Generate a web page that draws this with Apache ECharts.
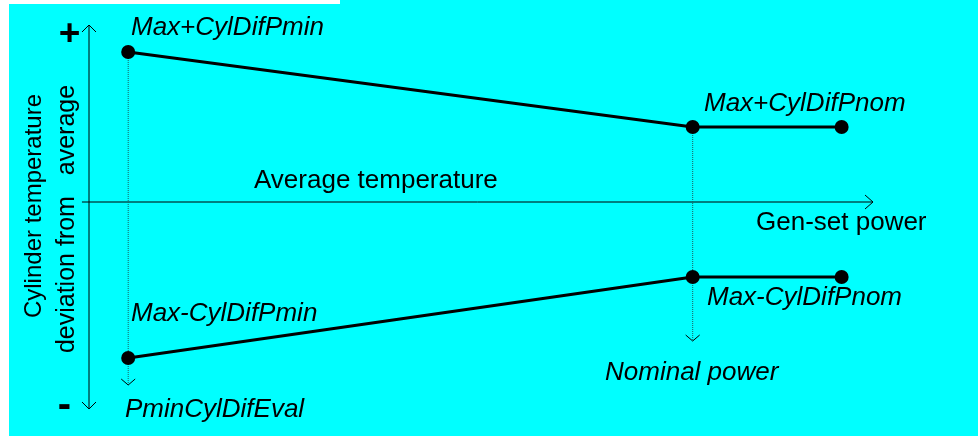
<!DOCTYPE html>
<html><head><meta charset="utf-8">
<script src="https://cdn.jsdelivr.net/npm/echarts@6/dist/echarts.min.js"></script>
<style>html,body{margin:0;padding:0;background:#fff}#c{width:978px;height:436px}</style>
</head><body><div id="c"></div>
<script>
// ---- data ----
const powerPoints = [0.5, 7.7, 9.6];          // Pmin, Pnom, end of curve (gen-set power)
const upperValues = [1.5, 0.75, 0.75];        // Max+CylDif
const lowerValues = [-1.56, -0.75, -0.75];    // Max-CylDif
const dropFrom = [1.5, 0.75];                 // dotted guide start (y) at Pmin, Pnom
const dropTo = [-1.83, -1.39];                // dotted guide end (y)
const xAxisExtent = [-0.09, 10];
const yAxisExtent = [-2.07, 1.77];
const labelTexts = ['Max+CylDifPmin','Max+CylDifPnom','Average temperature','Gen-set power',
  'Max-CylDifPnom','Max-CylDifPmin','Nominal power','PminCylDifEval'];
const yTitleLines = ['Cylinder temperature','deviation from   average'];
const signTexts = ['+','-'];

const FONT = '"Liberation Sans", Arial, sans-serif';
function chevron(tip, from, L, W){
  const dx=tip[0]-from[0], dy=tip[1]-from[1], len=Math.hypot(dx,dy)||1;
  const ux=dx/len, uy=dy/len, nx=-uy, ny=ux;
  return [[tip[0]-ux*L+nx*W, tip[1]-uy*L+ny*W], tip, [tip[0]-ux*L-nx*W, tip[1]-uy*L-ny*W]];
}
function arrowItem(dashed, L, W, both){
  return function(params, api){
    const p1 = api.coord([api.value(0), api.value(1)]);
    const p2 = api.coord([api.value(2), api.value(3)]);
    const children = [{type:'line', shape:{x1:p1[0],y1:p1[1],x2:p2[0],y2:p2[1]},
      style:{stroke: dashed ? '#1f5f5f' : '#000', lineWidth:1, lineDash: dashed ? [1,1] : null}}];
    children.push({type:'polyline', shape:{points:chevron(p2,p1,L,W)}, style:{stroke:'#000', lineWidth:1, fill:null}});
    if (both) children.push({type:'polyline', shape:{points:chevron(p1,p2,L,W)}, style:{stroke:'#000', lineWidth:1, fill:null}});
    return {type:'group', children};
  };
}
const pair = (xs, ys) => xs.map((x,i)=>[x, ys[i]]);

const chart = echarts.init(document.getElementById('c'));
const italic = (text, x, y) => ({type:'text', x, y, style:{text, font:'italic 26px '+FONT, fill:'#000', verticalAlign:'middle'}});
chart.setOption({
  backgroundColor:'#00ffff',
  animation:false,
  grid:{left:89, right:105, top:25, bottom:27},
  xAxis:{type:'value', min:0, max:10, show:false},
  yAxis:{type:'value', min:yAxisExtent[0], max:yAxisExtent[1], show:false},
  graphic:[
    {type:'rect', shape:{x:0,y:0,width:9,height:436}, style:{fill:'#fff'}, silent:true},
    {type:'rect', shape:{x:0,y:0,width:340,height:4}, style:{fill:'#fff'}, silent:true},
    italic(labelTexts[0], 131, 28),
    italic(labelTexts[1], 704, 104),
    {type:'text', x:254, y:181, style:{text:labelTexts[2], font:'26px '+FONT, fill:'#000', verticalAlign:'middle'}},
    {type:'text', x:756, y:223, style:{text:labelTexts[3], font:'26px '+FONT, fill:'#000', verticalAlign:'middle'}},
    italic(labelTexts[4], 707, 298),
    italic(labelTexts[5], 131, 314),
    italic(labelTexts[6], 605, 373),
    italic(labelTexts[7], 125, 410),
    {type:'text', x:34, y:206, rotation:Math.PI/2, style:{text:yTitleLines[0], font:'24px '+FONT, fill:'#000', align:'center', verticalAlign:'middle'}},
    {type:'text', x:67, y:219, rotation:Math.PI/2, style:{text:yTitleLines[1], font:'25px '+FONT, fill:'#000', align:'center', verticalAlign:'middle'}},
    {type:'text', x:69.5, y:35, style:{text:signTexts[0], font:'bold 37px '+FONT, fill:'#000', align:'center', verticalAlign:'middle'}},
    {type:'text', x:64.5, y:406, style:{text:signTexts[1], font:'bold 40px '+FONT, fill:'#000', align:'center', verticalAlign:'middle'}}
  ],
  series:[
    {type:'custom', name:'axes', clip:false, silent:true, encode:{x:[0,2], y:[1,3]},
      renderItem: arrowItem(false, 8, 7, false), data:[[xAxisExtent[0],0,xAxisExtent[1],0]], z:1},
    {type:'custom', name:'yaxis', clip:false, silent:true, encode:{x:[0,2], y:[1,3]},
      renderItem: arrowItem(false, 7, 7, true), data:[[0,yAxisExtent[0],0,yAxisExtent[1]]], z:1},
    {type:'custom', name:'drops', clip:false, silent:true, encode:{x:[0,2], y:[1,3]},
      renderItem: arrowItem(true, 6, 7, false),
      data: dropFrom.map((y,i)=>[powerPoints[i], y, powerPoints[i], dropTo[i]]), z:2},
    {type:'line', name:'upper', data:pair(powerPoints, upperValues), symbol:'circle', symbolSize:14,
      lineStyle:{color:'#000', width:3}, itemStyle:{color:'#000'}, z:5},
    {type:'line', name:'lower', data:pair(powerPoints, lowerValues), symbol:'circle', symbolSize:14,
      lineStyle:{color:'#000', width:3}, itemStyle:{color:'#000'}, z:5}
  ]
});
</script></body></html>
